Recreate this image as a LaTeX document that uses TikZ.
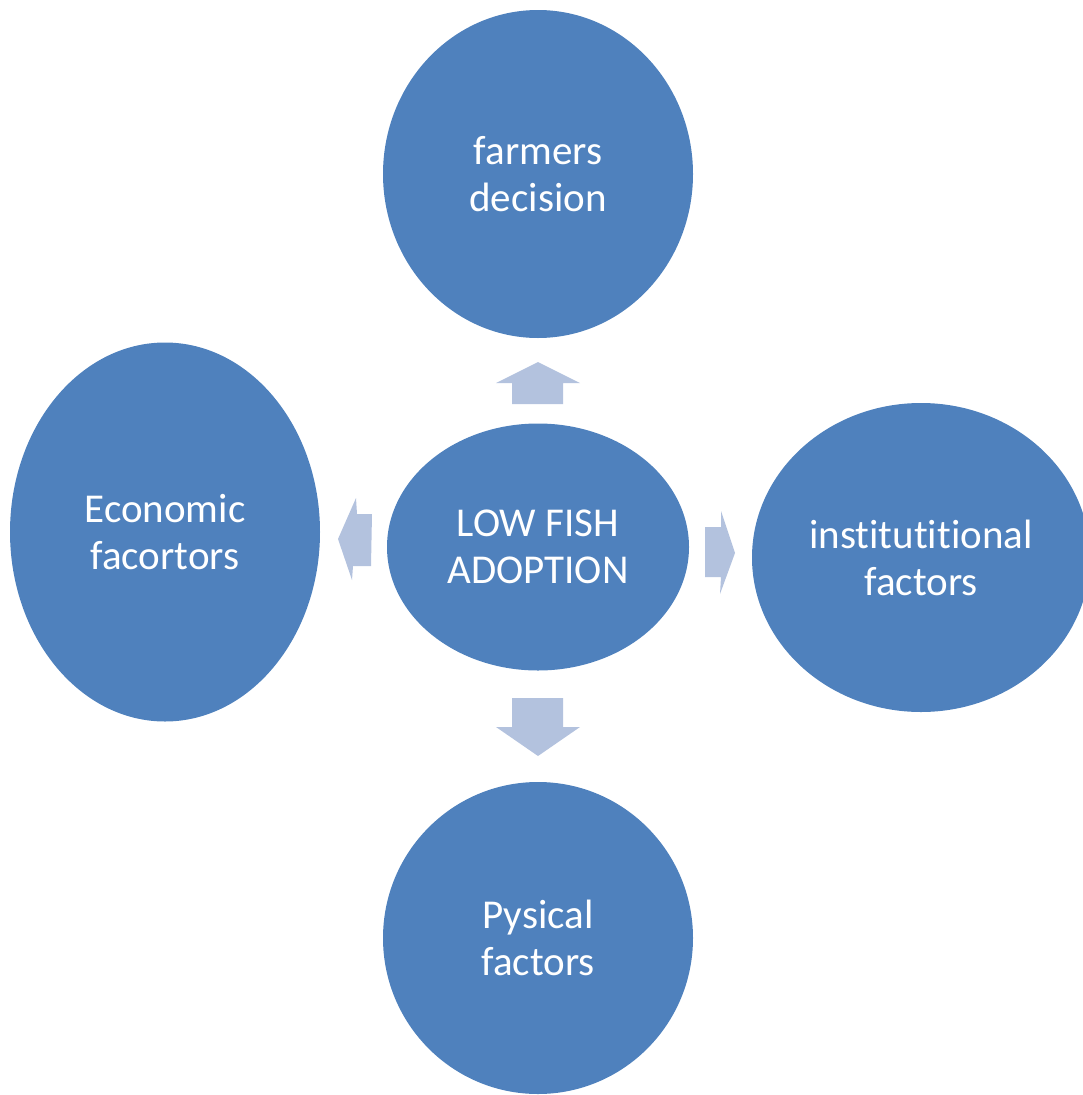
\documentclass[tikz,border=0pt]{standalone}
\usepackage{fontspec}
\setmainfont[Ligatures=NoCommon]{Carlito}
\usetikzlibrary{shapes.geometric}
\definecolor{bubble}{RGB}{79,129,189}
\definecolor{pointer}{RGB}{179,194,222}
\tikzset{
  bubble/.style={ellipse, fill=bubble, draw=none, inner sep=0pt,
    text=white, align=center,
    font=\fontsize{41}{47}\selectfont},
  pointer/.style={fill=pointer, draw=none}
}
\begin{document}
\begin{tikzpicture}[x=1pt, y=-1pt]
  \useasboundingbox (0,0) rectangle (1083,1095);
  % outer bubbles
  \node[bubble, minimum width=310pt, minimum height=328pt] (decision) at (538,174) {farmers\\decision};
  \node[bubble, minimum width=310pt, minimum height=379pt] (economic) at (165,532) {Economic\\facortors};
  \node[bubble, minimum width=338pt, minimum height=309pt] (institutional) at (921,557.5) {institutitional\\factors};
  \node[bubble, minimum width=310pt, minimum height=312pt] (physical) at (538,938) {Pysical\\factors};
  % central bubble
  \node[bubble, minimum width=302pt, minimum height=247pt] (core) at (538,547) {LOW FISH\\ADOPTION};
  % block arrows pointing outwards from the centre
  \fill[pointer] (496,383) -- (538,362) -- (580,383) -- (563,383) -- (563,404) -- (512,404) -- (512,383) -- cycle;
  \fill[pointer] (356,498) -- (338,539) -- (352,580) -- (353,566) -- (371,566) -- (372,514) -- (357,514) -- cycle;
  \fill[pointer] (705,527) -- (721,527) -- (721,511) -- (735,553) -- (720,594) -- (721,577) -- (705,577) -- cycle;
  \fill[pointer] (512,698) -- (563,698) -- (563,727) -- (580,727) -- (538,756) -- (496,727) -- (512,727) -- cycle;
\end{tikzpicture}
\end{document}
